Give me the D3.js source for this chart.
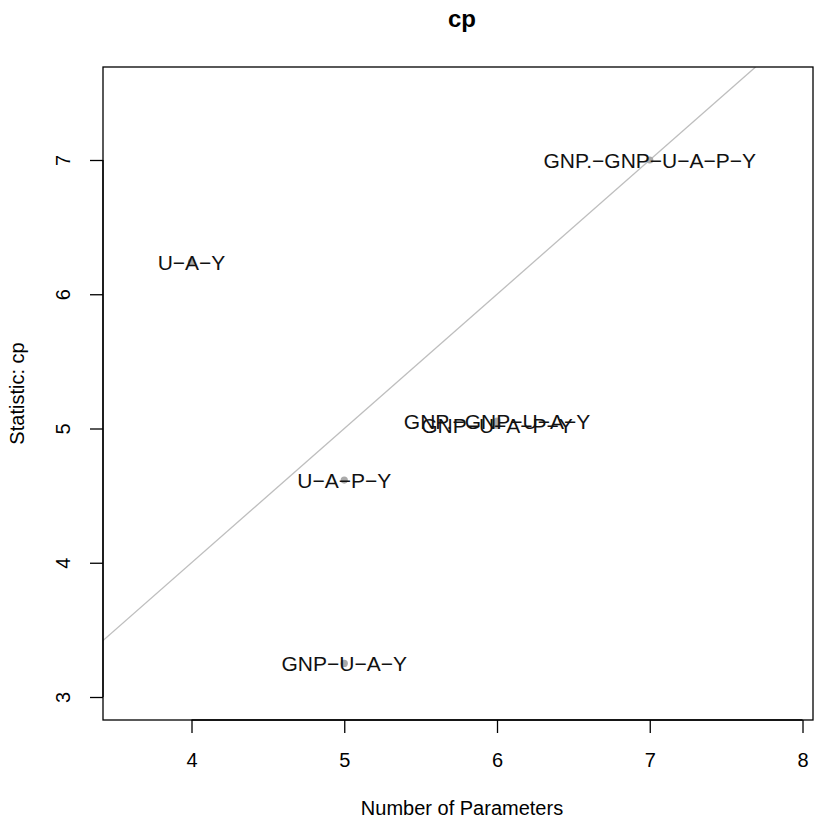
<!DOCTYPE html>
<html>
<head>
<meta charset="utf-8">
<script src="https://cdn.jsdelivr.net/npm/d3@7"></script>
<style>
  html, body { margin: 0; padding: 0; background: #fff; }
  svg { display: block; font-family: "Liberation Sans", Arial, Helvetica, sans-serif; }
</style>
</head>
<body>
<svg id="chart" width="827" height="820"></svg>
<script>
// ---- data ----
const models = ["U-A-Y", "U-A-P-Y", "GNP-U-A-Y", "GNP.-GNP-U-A-Y", "GNP-U-A-P-Y", "GNP.-GNP-U-A-P-Y"];
const numParams = [4, 5, 5, 6, 6, 7];
const cpValues = [6.24, 4.616, 3.25, 5.055, 5.025, 7.0];
const xTicks = [4, 5, 6, 7, 8];
const yTicks = [3, 4, 5, 6, 7];
const titleText = "cp";
const xLabel = "Number of Parameters";
const yLabel = "Statistic: cp";

// ---- layout ----
const pLeft = 103, pRight = 813, pTop = 67, pBottom = 720;
const svg = d3.select("#chart");

const x = d3.scaleLinear().domain([3.4206, 8.0687]).range([pLeft, pRight]);
const y = d3.scaleLinear().domain([2.8287, 7.6927]).range([pBottom, pTop]);

// clip for reference line
svg.append("defs").append("clipPath").attr("id", "plotclip")
  .append("rect").attr("x", pLeft).attr("y", pTop).attr("width", pRight - pLeft).attr("height", pBottom - pTop);

// reference line y = x
const lo = Math.max(x.domain()[0], y.domain()[0]);
const hi = Math.min(x.domain()[1], y.domain()[1]);
svg.append("line")
  .attr("clip-path", "url(#plotclip)")
  .attr("x1", x(lo)).attr("y1", y(lo))
  .attr("x2", x(hi)).attr("y2", y(hi))
  .attr("stroke", "#bebebe").attr("stroke-width", 1.3);

// points
const pts = models.map((m, i) => ({ m, p: numParams[i], cp: cpValues[i] }));
svg.append("g").selectAll("circle").data(pts).join("circle")
  .attr("cx", d => x(d.p)).attr("cy", d => y(d.cp)).attr("r", 3.6)
  .attr("fill", "#aaaaaa");

// labels
svg.append("g").selectAll("text").data(pts).join("text")
  .attr("x", d => x(d.p)).attr("y", d => y(d.cp))
  .attr("dy", "0.36em")
  .attr("text-anchor", "middle")
  .attr("font-size", 21)
  .attr("fill", "#111")
  .text(d => d.m.replace(/-/g, "\u2212"));

// box
svg.append("rect").attr("x", pLeft).attr("y", pTop)
  .attr("width", pRight - pLeft).attr("height", pBottom - pTop)
  .attr("fill", "none").attr("stroke", "#000").attr("stroke-width", 1.3);

// x axis (R style: line spans first to last tick)
const xAxis = d3.axisBottom(x).tickValues(xTicks).tickSize(13).tickPadding(12).tickFormat(d3.format("d"));
const gx = svg.append("g").attr("transform", `translate(0,${pBottom})`).call(xAxis);
gx.select(".domain").attr("d", `M${x(xTicks[0])},0H${x(xTicks[xTicks.length - 1])}`).attr("stroke", "#000").attr("stroke-width", 1.3);
gx.selectAll(".tick line").attr("stroke", "#000").attr("stroke-width", 1.3);
gx.selectAll(".tick text").attr("font-size", 20).attr("font-family", "Liberation Sans, Arial, sans-serif").attr("fill", "#000").attr("dy", "0.36em").attr("y", 40);

// y axis
const yAxis = d3.axisLeft(y).tickValues(yTicks).tickSize(13).tickFormat(d3.format("d"));
const gy = svg.append("g").attr("transform", `translate(${pLeft},0)`).call(yAxis);
gy.select(".domain").attr("d", `M0,${y(yTicks[0])}V${y(yTicks[yTicks.length - 1])}`).attr("stroke", "#000").attr("stroke-width", 1.3);
gy.selectAll(".tick line").attr("stroke", "#000").attr("stroke-width", 1.3);
gy.selectAll(".tick text")
  .attr("font-size", 20).attr("font-family", "Liberation Sans, Arial, sans-serif").attr("fill", "#000")
  .attr("x", null)
  .attr("text-anchor", "middle")
  .attr("transform", `translate(${63 - pLeft},0) rotate(-90)`)
  .attr("dy", "0.36em");

// title
svg.append("text").attr("x", (pLeft + pRight) / 2 + 4).attr("y", 27)
  .attr("text-anchor", "middle").attr("font-size", 24).attr("font-weight", "bold")
  .text(titleText);

// axis titles
svg.append("text").attr("x", (pLeft + pRight) / 2 + 4).attr("y", 808).attr("dy", "0.36em")
  .attr("text-anchor", "middle").attr("font-size", 20).text(xLabel);
svg.append("text")
  .attr("transform", `translate(17,${(pTop + pBottom) / 2}) rotate(-90)`)
  .attr("dy", "0.36em")
  .attr("text-anchor", "middle").attr("font-size", 20).text(yLabel);
</script>
</body>
</html>
